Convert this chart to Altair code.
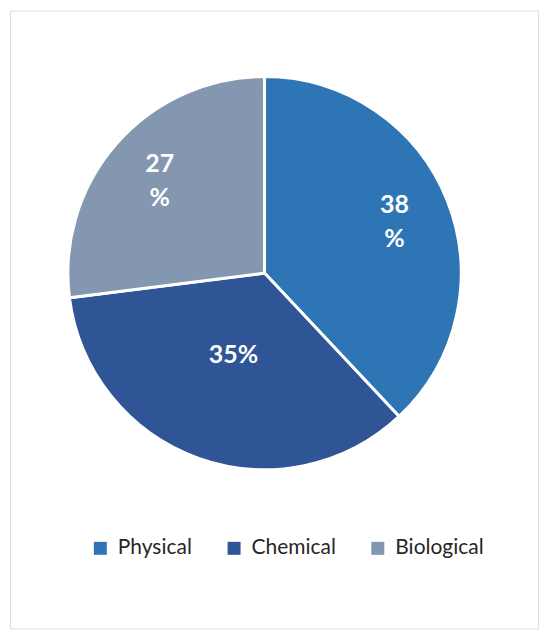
import altair as alt
import pandas as pd
import math

categories = ["Physical", "Chemical", "Biological"]
values = [38, 35, 27]
labels = ["38\n%", "35%", "27\n%"]
colors = ["#2E75B6", "#2F5597", "#8497B0"]

df = pd.DataFrame({
    "Category": categories,
    "Value": values,
    "Label": labels,
    "Order": list(range(len(categories))),
})

W, H = 529, 619
CX, CY = 255, 263

pie = alt.Chart(df).mark_arc(radius=197, stroke="white", strokeWidth=3).encode(
    x=alt.value(CX),
    y=alt.value(CY),
    theta=alt.Theta("Value:Q", stack=True),
    order=alt.Order("Order:Q"),
    color=alt.Color(
        "Category:N",
        scale=alt.Scale(domain=categories, range=colors),
        sort=categories,
        legend=alt.Legend(
            title=None,
            orient="none",
            direction="horizontal",
            legendX=80,
            legendY=528,
            symbolType="square",
            symbolSize=169,
            symbolStrokeWidth=0,
            labelFont="Lato",
            labelFontSize=21,
            labelColor="#262626",
            labelOffset=7,
            columnPadding=31,
        ),
    ),
)

text_style = dict(
    font="Lato",
    fontSize=25,
    fontWeight="bold",
    color="white",
    lineBreak="\n",
    lineHeight=34,
)

stacked = alt.Chart(df).transform_window(
    cum="sum(Value)", sort=[alt.SortField("Order")]
).transform_joinaggregate(
    total="sum(Value)"
).transform_calculate(
    mid="(datum.cum - datum.Value / 2) / datum.total"
)

def label_layer(cond, r, dy):
    return stacked.transform_filter(cond).mark_text(radius=r, dy=dy, **text_style).encode(
        x=alt.value(CX),
        y=alt.value(CY),
        theta=alt.Theta("mid:Q", scale=alt.Scale(domain=[0, 1], range=[0, 2 * math.pi])),
        text="Label:N",
    )

outer = label_layer(alt.datum.Category != "Chemical", 140, -17)
inner = label_layer(alt.datum.Category == "Chemical", 92, -4)

chart = (
    alt.layer(pie, outer, inner)
    .resolve_scale(theta="independent")
    .properties(
        width=W,
        height=H,
        padding={"left": 2, "top": 2, "right": 4, "bottom": 4},
        autosize=alt.AutoSizeParams(type="none"),
    )
    .configure_view(stroke="#D9D9D9", strokeWidth=1.5)
    .configure(background="white")
)

chart.save("out.html", embed_options={"renderer": "svg", "actions": False})
